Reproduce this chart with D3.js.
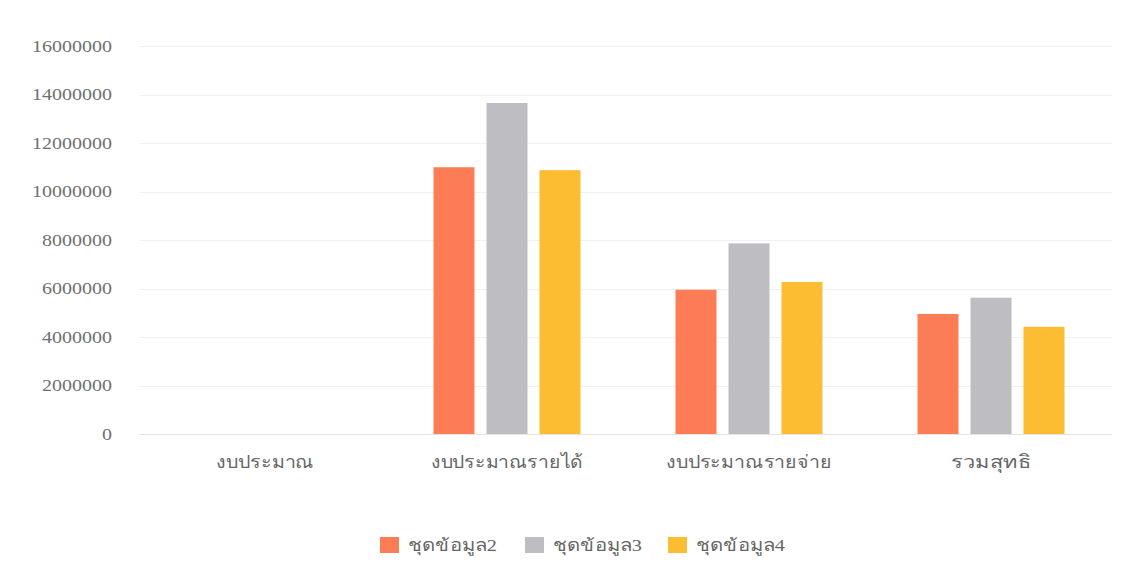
<!DOCTYPE html>
<html><head><meta charset="utf-8">
<script src="https://cdn.jsdelivr.net/npm/d3@7"></script>
<style>body{margin:0;background:#fff;}svg{display:block;}</style>
</head><body>
<svg id="c" width="1133" height="580"></svg>
<script>
const categories = ["งบประมาณ", "งบประมาณรายได้", "งบประมาณรายจ่าย", "รวมสุทธิ"];
const seriesNames = ["ชุดข้อมูล2", "ชุดข้อมูล3", "ชุดข้อมูล4"];
const series2 = [0, 11000000, 5950000, 4950000];
const series3 = [0, 13650000, 7860000, 5620000];
const series4 = [0, 10880000, 6270000, 4420000];
const colors = ["#fb7c55", "#bdbdc2", "#fcbd33"];
const yTicks = [0, 2000000, 4000000, 6000000, 8000000, 10000000, 12000000, 14000000, 16000000];

const values = [series2, series3, series4];
const svg = d3.select("#c");
const font = "'Liberation Serif','DejaVu Serif',serif";
const catWidths = [98, 152, 166, 80];

const x = d3.scaleBand().domain(categories).range([144, 1112]).paddingInner(0).paddingOuter(0);
const y = d3.scaleLinear().domain([0, 16000000]).range([434, 46]);
const barW = 41, gap = 12;
const xs = d3.scaleBand().domain(seriesNames).range([0, barW*3 + gap*2]).paddingInner(gap/(barW+gap)).paddingOuter(0);

// gridlines
svg.append("g").selectAll("line").data(yTicks).join("line")
  .attr("x1", 140).attr("x2", 1112)
  .attr("y1", d => Math.round(y(d)) + 0.5).attr("y2", d => Math.round(y(d)) + 0.5)
  .attr("stroke", d => d === 0 ? "#e4e4e4" : "#f0f0f0").attr("stroke-width", 1);

// y axis
const yAxis = d3.axisLeft(y).tickValues(yTicks).tickFormat(d3.format("d")).tickSize(0).tickPadding(0);
const gy = svg.append("g").attr("transform", "translate(112,0)").call(yAxis);
gy.select(".domain").remove();
gy.selectAll("text").attr("font-family", font).attr("font-size", 16).attr("fill", "#707070")
  .attr("textLength", d => String(d).length * 10).attr("lengthAdjust", "spacingAndGlyphs");

// x axis labels
const xAxis = d3.axisBottom(x).tickSize(0).tickPadding(0);
const gx = svg.append("g").attr("transform", "translate(0,455)").call(xAxis);
gx.select(".domain").remove();
gx.selectAll("text").attr("font-family", font).attr("font-size", 18).attr("fill", "#666")
  .attr("textLength", (d, i) => catWidths[i]).attr("lengthAdjust", "spacingAndGlyphs");

// bars
const groups = svg.append("g").selectAll("g").data(categories).join("g")
  .attr("transform", d => `translate(${x(d) + (x.bandwidth() - xs.range()[1]) / 2},0)`);
groups.selectAll("rect").data((c, i) => seriesNames.map((s, j) => ({s, v: values[j][i], j})))
  .join("rect")
  .attr("x", d => xs(d.s)).attr("width", xs.bandwidth())
  .attr("y", d => y(d.v)).attr("height", d => y(0) - y(d.v))
  .attr("fill", d => colors[d.j]);

// legend
const legendX = [380, 525, 668];
const lg = svg.append("g").selectAll("g").data(seriesNames).join("g")
  .attr("transform", (d, i) => `translate(${legendX[i]},537)`);
lg.append("rect").attr("width", 19).attr("height", 16).attr("fill", (d, i) => colors[i]);
lg.append("text").attr("x", 28).attr("y", 14).text(d => d)
  .attr("font-family", font).attr("font-size", 17).attr("fill", "#666")
  .attr("textLength", 89).attr("lengthAdjust", "spacingAndGlyphs");
</script>
</body></html>
